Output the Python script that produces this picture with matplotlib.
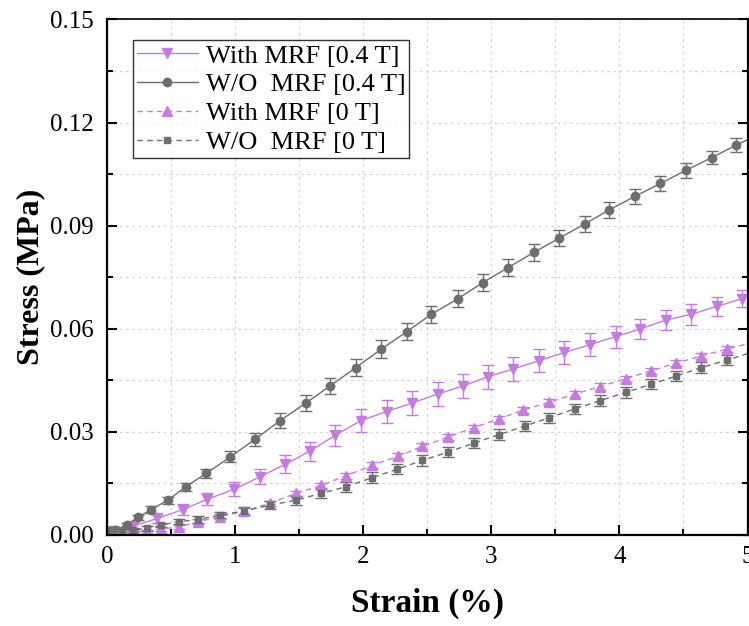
import numpy as np
import matplotlib
matplotlib.use("Agg")
import matplotlib.pyplot as plt
from matplotlib.lines import Line2D
from matplotlib.ticker import MultipleLocator, FormatStrFormatter

plt.rcParams['font.family'] = ['Liberation Serif', 'DejaVu Serif']
plt.rcParams['mathtext.fontset'] = 'stix'

# W/O MRF [0.4 T]
x_wo_04 = [0.01, 0.06, 0.15, 0.24, 0.34, 0.47, 0.61, 0.77, 0.96, 1.15, 1.35, 1.55, 1.74, 1.94,
           2.14, 2.34, 2.53, 2.74, 2.93, 3.13, 3.33, 3.53, 3.73, 3.92, 4.12, 4.32, 4.52, 4.72, 4.91, 5.11]
y_wo_04 = [0.0012, 0.0014, 0.0029, 0.0051, 0.0074, 0.0101, 0.0140, 0.0179, 0.0227, 0.0278,
           0.0333, 0.0384, 0.0434, 0.0487, 0.0541, 0.0592, 0.0642, 0.0688, 0.0734, 0.0778,
           0.0822, 0.0864, 0.0905, 0.0946, 0.0985, 0.1023, 0.1061, 0.1098, 0.1134, 0.1170]
e_wo_04 = [0.0003, 0.0004, 0.0006, 0.0008, 0.0010, 0.0010, 0.0012, 0.0014, 0.0016, 0.0020,
           0.0022, 0.0024, 0.0024, 0.0024, 0.0025, 0.0025, 0.0024, 0.0024, 0.0024, 0.0024,
           0.0024, 0.0024, 0.0024, 0.0024, 0.0022, 0.0022, 0.0022, 0.0020, 0.0020, 0.0020]

# With MRF [0.4 T]
x_w_04 = [0.0, 0.05, 0.20, 0.39, 0.59, 0.78, 0.99, 1.19, 1.39, 1.58, 1.78, 1.98, 2.18, 2.38,
          2.58, 2.78, 2.97, 3.17, 3.37, 3.57, 3.77, 3.97, 4.16, 4.36, 4.56, 4.76, 4.96]
y_w_04 = [0.0005, 0.0012, 0.0026, 0.0048, 0.0074, 0.0104, 0.0133, 0.0169, 0.0206, 0.0244,
          0.0290, 0.0333, 0.0359, 0.0384, 0.0410, 0.0434, 0.0460, 0.0483, 0.0507, 0.0531,
          0.0554, 0.0577, 0.0599, 0.0625, 0.0642, 0.0665, 0.0688]
e_w_04 = [0.0003, 0.0005, 0.0008, 0.0012, 0.0015, 0.0018, 0.0020, 0.0022, 0.0026, 0.0028,
          0.0030, 0.0033, 0.0034, 0.0035, 0.0035, 0.0035, 0.0034, 0.0034, 0.0034, 0.0033,
          0.0033, 0.0032, 0.0030, 0.0030, 0.0030, 0.0028, 0.0026]

# With MRF [0 T]
x_w_0 = [0.0, 0.10, 0.20, 0.31, 0.42, 0.56, 0.71, 0.88, 1.07, 1.27, 1.47, 1.67, 1.86, 2.07,
         2.27, 2.46, 2.66, 2.86, 3.06, 3.25, 3.45, 3.65, 3.85, 4.05, 4.25, 4.44, 4.64, 4.84, 5.04]
y_w_0 = [0.0003, 0.0006, 0.0010, 0.0010, 0.0017, 0.0024, 0.0039, 0.0053, 0.0070, 0.0092,
         0.0121, 0.0144, 0.0172, 0.0203, 0.0229, 0.0258, 0.0285, 0.0312, 0.0338, 0.0364,
         0.0386, 0.0410, 0.0432, 0.0455, 0.0478, 0.0500, 0.0521, 0.0541, 0.0560]
e_w_0 = [0.0002, 0.0003, 0.0004, 0.0005, 0.0006, 0.0006, 0.0007, 0.0007, 0.0008, 0.0008,
         0.0008, 0.0008, 0.0008, 0.0009, 0.0009, 0.0009, 0.0009, 0.0009, 0.0009, 0.0009,
         0.0009, 0.0009, 0.0009, 0.0009, 0.0009, 0.0009, 0.0009, 0.0009, 0.0009]

# W/O MRF [0 T]
x_wo_0 = [0.0, 0.11, 0.20, 0.31, 0.42, 0.56, 0.71, 0.88, 1.07, 1.27, 1.47, 1.67, 1.86, 2.07,
          2.26, 2.46, 2.66, 2.86, 3.06, 3.26, 3.45, 3.65, 3.85, 4.05, 4.25, 4.44, 4.64, 4.84, 5.04]
y_wo_0 = [0.0005, 0.0012, 0.0015, 0.0019, 0.0029, 0.0039, 0.0045, 0.0058, 0.0070, 0.0087,
          0.0101, 0.0121, 0.0140, 0.0167, 0.0191, 0.0217, 0.0241, 0.0267, 0.0292, 0.0317,
          0.0341, 0.0367, 0.0391, 0.0415, 0.0439, 0.0462, 0.0487, 0.0509, 0.0532]
e_wo_0 = [0.0003, 0.0004, 0.0005, 0.0006, 0.0007, 0.0008, 0.0009, 0.0010, 0.0011, 0.0012,
          0.0013, 0.0014, 0.0014, 0.0015, 0.0015, 0.0015, 0.0015, 0.0015, 0.0015, 0.0015,
          0.0015, 0.0015, 0.0015, 0.0015, 0.0015, 0.0015, 0.0015, 0.0015, 0.0015]

purple = '#c57be0'
gray = '#6e6e6e'

fig = plt.figure(figsize=(7.49, 6.26), dpi=100)
ax = fig.add_axes([0.1435, 0.1454, 0.8545, 0.8235])

ax.grid(True, which='both', linestyle=(0, (2, 3)), color='#d4d4d4', linewidth=0.9, zorder=0)
ax.set_axisbelow(True)

dash = (0, (4, 3))
common = dict(capsize=4, elinewidth=1.0, capthick=1.0, linewidth=1.0)
ax.errorbar(x_w_04, y_w_04, yerr=e_w_04, color=purple, marker='v', markersize=7,
            linestyle='-', **common)
ax.errorbar(x_wo_04, y_wo_04, yerr=e_wo_04, color=gray, marker='o', markersize=6,
            linestyle='-', **common)
ax.errorbar(x_w_0, y_w_0, yerr=e_w_0, color=purple, marker='^', markersize=7,
            linestyle=dash, **common)
ax.errorbar(x_wo_0, y_wo_0, yerr=e_wo_0, color=gray, marker='s', markersize=5,
            linestyle=dash, **common)

handles = [
    Line2D([], [], color=purple, marker='v', markersize=7, linestyle='-', linewidth=1.0),
    Line2D([], [], color=gray, marker='o', markersize=6, linestyle='-', linewidth=1.0),
    Line2D([], [], color=purple, marker='^', markersize=7, linestyle=dash, linewidth=1.0),
    Line2D([], [], color=gray, marker='s', markersize=5, linestyle=dash, linewidth=1.0),
]
labels = ['With MRF [0.4 T]', 'W/O  MRF [0.4 T]', 'With MRF [0 T]', 'W/O  MRF [0 T]']

ax.set_xlim(0, 5)
ax.set_ylim(0, 0.15)
ax.xaxis.set_major_locator(MultipleLocator(1))
ax.xaxis.set_minor_locator(MultipleLocator(0.5))
ax.yaxis.set_major_locator(MultipleLocator(0.03))
ax.yaxis.set_minor_locator(MultipleLocator(0.015))
ax.yaxis.set_major_formatter(FormatStrFormatter('%.2f'))

ax.tick_params(which='both', direction='in', width=1.5, labelsize=18, top=False, right=True)
ax.tick_params(which='major', length=7)
ax.tick_params(axis='y', which='major', pad=10)
ax.tick_params(axis='x', which='major', pad=8)
ax.tick_params(which='minor', length=4)
for s in ax.spines.values():
    s.set_linewidth(1.6)
ax.spines['top'].set_linewidth(1.2)

ax.set_xlabel('Strain (%)', fontsize=24, fontweight='bold', labelpad=14)
ax.set_ylabel('Stress (MPa)', fontsize=23, fontweight='bold', labelpad=3)

leg = ax.legend(handles, labels, loc='upper left', bbox_to_anchor=(0.04, 0.96), fontsize=19,
                frameon=True, fancybox=False, edgecolor='black', handlelength=2.3,
                handletextpad=0.3, labelspacing=0.2, borderpad=0.15, borderaxespad=0)
leg.get_frame().set_linewidth(1.0)

fig.savefig('out.png', dpi=100)
